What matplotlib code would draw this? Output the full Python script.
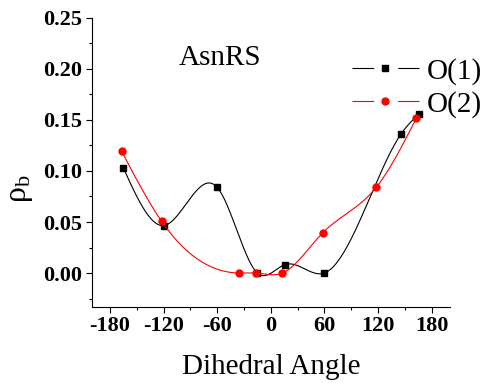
import numpy as np
import matplotlib
matplotlib.use("Agg")
import matplotlib.pyplot as plt
from matplotlib.lines import Line2D
from matplotlib.ticker import MultipleLocator

plt.rcParams['font.family'] = ['Liberation Serif', 'DejaVu Serif']
plt.rcParams['mathtext.fontset'] = 'custom'
plt.rcParams['mathtext.rm'] = 'Liberation Serif'
plt.rcParams['mathtext.it'] = 'Liberation Serif:italic'
plt.rcParams['axes.unicode_minus'] = False
plt.rcParams['lines.scale_dashes'] = False

# dihedral angle vs rho_b
o1_angle = [-165, -120, -60, -15, 16, 60, 146, 166]
o1_rho = [0.103, 0.0465, 0.084, 0.0, 0.0083, 0.0, 0.1366, 0.156]
o2_angle = [-167, -122, -36, -16, 13, 58, 118, 163]
o2_rho = [0.1195, 0.0505, 0.0, 0.0, 0.0, 0.0393, 0.084, 0.152]


def natural_spline(x, y, n=400):
    # plain natural cubic spline, like Origin's spline connect
    x = np.asarray(x, float)
    y = np.asarray(y, float)
    k = len(x)
    h = np.diff(x)
    A = np.zeros((k, k))
    b = np.zeros(k)
    A[0, 0] = A[-1, -1] = 1
    for i in range(1, k - 1):
        A[i, i - 1] = h[i - 1]
        A[i, i] = 2 * (h[i - 1] + h[i])
        A[i, i + 1] = h[i]
        b[i] = 6 * ((y[i + 1] - y[i]) / h[i] - (y[i] - y[i - 1]) / h[i - 1])
    M = np.linalg.solve(A, b)
    xs = np.linspace(x[0], x[-1], n)
    idx = np.clip(np.searchsorted(x, xs) - 1, 0, k - 2)
    x0, x1 = x[idx], x[idx + 1]
    hh = x1 - x0
    ys = (M[idx] * (x1 - xs) ** 3 / (6 * hh) + M[idx + 1] * (xs - x0) ** 3 / (6 * hh)
          + (y[idx] / hh - M[idx] * hh / 6) * (x1 - xs)
          + (y[idx + 1] / hh - M[idx + 1] * hh / 6) * (xs - x0))
    return xs, ys


fig = plt.figure(figsize=(4.87, 3.9), dpi=100)
ax = fig.add_axes([0.189, 0.2136, 0.735, 0.7404])

xs, ys = natural_spline(o1_angle, o1_rho)
ax.plot(xs, ys, color='black', lw=0.8)
ax.plot(o1_angle, o1_rho, ls='none', marker='s', ms=4.5, color='black')
xs, ys = natural_spline(o2_angle, o2_rho)
ax.plot(xs, ys, color='red', lw=0.8)
ax.plot(o2_angle, o2_rho, ls='none', marker='o', ms=5, color='red')

ax.set_xlim(-200, 200.5)
ax.set_ylim(-0.033, 0.25)
ax.xaxis.set_major_locator(MultipleLocator(60))
ax.xaxis.set_minor_locator(MultipleLocator(30))
ax.yaxis.set_major_locator(MultipleLocator(0.05))
ax.yaxis.set_minor_locator(MultipleLocator(0.025))
ax.set_xticks([-180, -120, -60, 0, 60, 120, 180])
ax.set_xticklabels(['-180', '-120', '-60', '0', '60', '120', '180'])
ax.yaxis.set_major_formatter(matplotlib.ticker.FormatStrFormatter('%.2f'))

for s in ['top', 'right']:
    ax.spines[s].set_visible(False)
for s in ['left', 'bottom']:
    ax.spines[s].set_linewidth(0.8)
ax.tick_params(which='major', direction='out', length=4, width=0.8, labelsize=16, pad=3)
ax.tick_params(which='minor', direction='out', length=2, width=0.8)
for lab in ax.get_xticklabels() + ax.get_yticklabels():
    lab.set_fontweight('bold')

ax.set_xlabel('Dihedral Angle', fontsize=21, labelpad=13)
ax.set_ylabel('ρ$_{\\rm b}$', fontsize=23)
ax.yaxis.set_label_coords(-0.16, 0.41)

ax.text(-57, 0.204, 'AsnRS', fontsize=21, ha='center', va='baseline')

h1 = Line2D([], [], color='black', lw=0.8, ls=(0, (15.6, 17.3)), marker='s', ms=4.5)
h2 = Line2D([], [], color='red', lw=0.8, ls=(0, (15.6, 17.3)), marker='o', ms=5)
fig.legend([h1, h2], ['O(1)', 'O(2)'], loc='upper left', bbox_to_anchor=(0.722, 0.852),
           frameon=False, fontsize=21, handlelength=2.31, handletextpad=0.26,
           borderpad=0, borderaxespad=0, labelspacing=0.22, numpoints=1)

fig.savefig('out.png', dpi=100)
